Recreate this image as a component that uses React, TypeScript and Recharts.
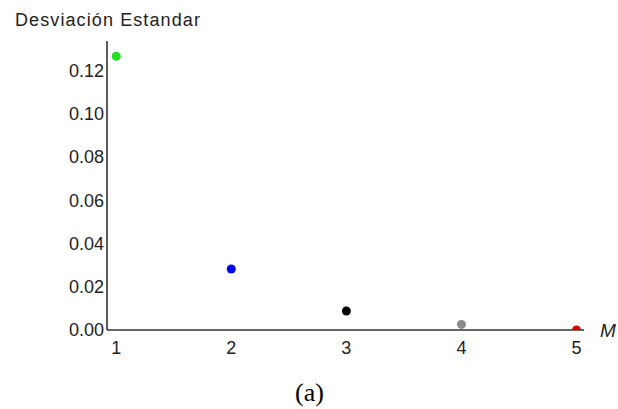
import React from 'react';
import { ScatterChart, Scatter, XAxis, YAxis, Cell } from 'recharts';

const mValues = [1, 2, 3, 4, 5];
const stdDev = [0.1266, 0.0282, 0.0088, 0.0026, 0.0];
const pointColors = ['#22e022', '#0000f0', '#000000', '#8a8a8a', '#e00000'];
const yTicks = [0, 0.02, 0.04, 0.06, 0.08, 0.1, 0.12];
const xTicks = [1, 2, 3, 4, 5];

const data = mValues.map((m, i) => ({ m, sd: stdDev[i] }));

const Dot = (props: any) => {
  const { cx, cy, fill } = props;
  return <circle cx={cx} cy={cy} r={4.5} fill={fill} />;
};

export default function App() {
  return (
    <div style={{ position: 'absolute', left: 0, top: 0, width: 618, height: 409, background: '#fff', fontFamily: '"Liberation Sans", Arial, sans-serif' }}>
      <ScatterChart width={618} height={409} margin={{ top: 41, right: 34, bottom: 49, left: 0 }}>
        <XAxis
          type="number"
          dataKey="m"
          domain={[0.92, 5.065]}
          ticks={xTicks}
          allowDataOverflow
          axisLine={{ stroke: '#333', strokeWidth: 1.6 }}
          tickLine={false}
          tickSize={5}
          tickMargin={6}
          height={30}
          tick={{ fill: '#222', fontSize: 18, fontFamily: '"Liberation Sans", Arial, sans-serif' }}
        />
        <YAxis
          type="number"
          dataKey="sd"
          domain={[0, 0.1336]}
          ticks={yTicks}
          allowDataOverflow
          width={107}
          axisLine={{ stroke: '#333', strokeWidth: 1.6 }}
          tickLine={false}
          tickSize={1}
          tickMargin={2}
          tickFormatter={(v: number) => v.toFixed(2)}
          tick={{ fill: '#222', fontSize: 18, fontFamily: '"Liberation Sans", Arial, sans-serif' }}
        />
        <Scatter data={data} isAnimationActive={false} shape={<Dot />}>
          {data.map((d, i) => (
            <Cell key={i} fill={pointColors[i]} />
          ))}
        </Scatter>
      </ScatterChart>
      <svg width={618} height={409} style={{ position: 'absolute', left: 0, top: 0, pointerEvents: 'none' }}>
        <text x={15} y={26} fontSize={18} fill="#222" style={{ letterSpacing: '1.1px' }} fontFamily='"Liberation Sans", Arial, sans-serif'>
          Desviación Estandar
        </text>
        <text x={600} y={337} fontSize={19} fontStyle="italic" fill="#222" fontFamily='"Liberation Sans", Arial, sans-serif'>
          M
        </text>
        <text x={295} y={401} fontSize={26} fill="#000" fontFamily='"Liberation Serif", "DejaVu Serif", serif'>
          (a)
        </text>
      </svg>
    </div>
  );
}
